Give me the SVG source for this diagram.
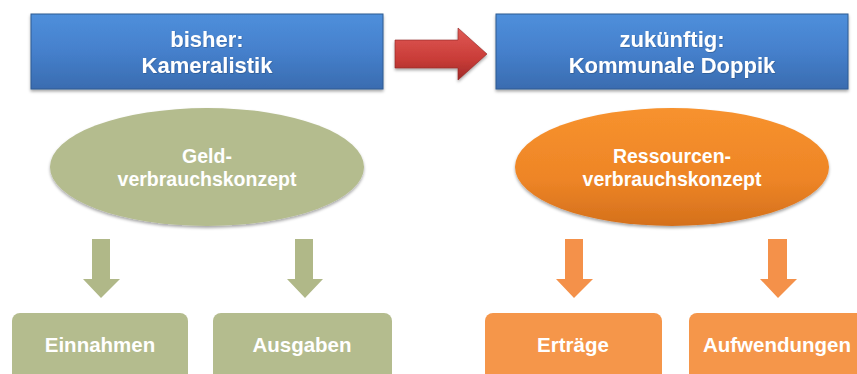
<svg xmlns="http://www.w3.org/2000/svg" width="857" height="374" viewBox="0 0 857 374">
<defs>
<linearGradient id="gBlue" x1="0" y1="0" x2="0" y2="1">
<stop offset="0" stop-color="#4f8fdb"/>
<stop offset="0.5" stop-color="#4580cc"/>
<stop offset="1" stop-color="#3a6cb0"/>
</linearGradient>
<linearGradient id="gRed" x1="0" y1="0" x2="0" y2="1">
<stop offset="0" stop-color="#e05a55"/>
<stop offset="0.6" stop-color="#c93c38"/>
<stop offset="1" stop-color="#a02a28"/>
</linearGradient>
<linearGradient id="gOrange" x1="0" y1="0" x2="0" y2="1">
<stop offset="0" stop-color="#f7922e"/>
<stop offset="0.6" stop-color="#ee8526"/>
<stop offset="1" stop-color="#d4701c"/>
</linearGradient>
<filter id="sh" x="-10%" y="-10%" width="120%" height="130%">
<feDropShadow dx="0" dy="2" stdDeviation="1.5" flood-color="#000" flood-opacity="0.35"/>
</filter>
<filter id="tsh" x="-5%" y="-20%" width="110%" height="140%">
<feDropShadow dx="0.6" dy="0.6" stdDeviation="0.4" flood-color="#000" flood-opacity="0.3"/>
</filter>
</defs>
<style>
text{font-family:"Liberation Sans",Arial,sans-serif;font-weight:bold;fill:#ffffff;text-anchor:middle}
.hdr{font-size:22px}
.ell{font-size:19.5px}
.box{font-size:20.5px}
.green{fill:#b4bc8e}
.orange{fill:#f5964a}
.garrow{fill:#b0b888}
.oarrow{fill:#f4914a}
</style>
<g id="node-bisher">
<rect x="31" y="14" width="352" height="75" fill="url(#gBlue)" stroke="#2f5a92" stroke-width="1" filter="url(#sh)"/>
<text class="hdr" x="207" y="47" filter="url(#tsh)">bisher:</text>
<text class="hdr" x="207" y="73" filter="url(#tsh)">Kameralistik</text>
</g>
<g id="node-zukuenftig">
<rect x="496" y="14" width="352" height="75" fill="url(#gBlue)" stroke="#2f5a92" stroke-width="1" filter="url(#sh)"/>
<text class="hdr" x="672" y="47" filter="url(#tsh)">zukünftig:</text>
<text class="hdr" x="672" y="73" filter="url(#tsh)">Kommunale Doppik</text>
</g>
<g id="node-geld">
<ellipse cx="207" cy="167" rx="157" ry="59" fill="#b4bc8e" filter="url(#sh)"/>
<text class="ell" x="207" y="163">Geld-</text>
<text class="ell" x="207" y="186">verbrauchskonzept</text>
</g>
<g id="node-ressourcen">
<ellipse cx="672" cy="167" rx="157" ry="59" fill="url(#gOrange)" filter="url(#sh)"/>
<text class="ell" x="672" y="163">Ressourcen-</text>
<text class="ell" x="672" y="186">verbrauchskonzept</text>
</g>
<g id="node-einnahmen">
<rect class="green" x="12" y="313" width="176" height="70" rx="8"/>
<text class="box" x="100" y="352">Einnahmen</text>
</g>
<g id="node-ausgaben">
<rect class="green" x="213" y="313" width="179" height="70" rx="8"/>
<text class="box" x="302" y="352">Ausgaben</text>
</g>
<g id="node-ertraege">
<rect class="orange" x="485" y="313" width="177" height="70" rx="8"/>
<text class="box" x="573" y="352">Erträge</text>
</g>
<g id="node-aufwendungen">
<rect class="orange" x="689" y="313" width="177" height="70" rx="8"/>
<text class="box" x="777" y="352">Aufwendungen</text>
</g>
<g id="connectors">
<path d="M395,40 H458 V28 L487,54 L458,80 V68 H395 Z" fill="url(#gRed)" stroke="#8e2624" stroke-width="0.6" filter="url(#sh)"/>
<path class="garrow" d="M92,239 H110 V279 H120 L101,298 L83,279 H92 Z"/>
<path class="garrow" d="M295,239 H313 V279 H323 L305,298 L287,279 H295 Z"/>
<path class="oarrow" d="M565,239 H583 V279 H593 L574,298 L556,279 H565 Z"/>
<path class="oarrow" d="M768,239 H787 V279 H797 L778,298 L760,279 H768 Z"/>
</g>
</svg>
